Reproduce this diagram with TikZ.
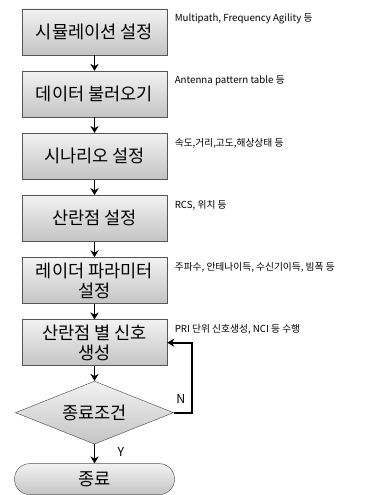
\documentclass[tikz,border=0pt]{standalone}
\usepackage{fontspec}
\setmainfont{Noto Sans CJK KR}
\usepackage{tikz}
\usetikzlibrary{arrows.meta,positioning,calc,shapes.geometric,shadows}
\definecolor{boxtop}{HTML}{F2F2F2}
\definecolor{boxbot}{HTML}{C4C4C4}
\definecolor{boxline}{HTML}{555555}

\begin{document}
\begin{tikzpicture}[
  step box/.style={draw=boxline, top color=boxtop, bottom color=boxbot, minimum width=4.35cm, minimum height=1.38cm, align=center, font=\fontsize{15}{17}\selectfont, inner sep=1pt, drop shadow={opacity=0.25, shadow xshift=0.6pt, shadow yshift=-0.6pt}},
  cond/.style={diamond, aspect=2.5, draw=boxline, top color=boxtop, bottom color=boxbot, minimum width=4.74cm, minimum height=1.89cm, inner sep=0pt, font=\fontsize{15}{17}\selectfont},
  term/.style={draw=boxline, rounded corners=0.46cm, top color=boxtop, bottom color=boxbot, minimum width=4.8cm, minimum height=0.93cm, font=\fontsize{15}{17}\selectfont},
  note/.style={font=\fontsize{8.3}{10}\selectfont, inner sep=0pt},
  arr/.style={-{Stealth[length=6pt,width=7pt]}, line width=1.5pt, black},
  node distance=0.47cm
]
  \useasboundingbox (0,0) rectangle (11.22,-14.85);

  \node[step box] (sim) at (2.835,-0.96) {시뮬레이션 설정};
  \node[step box, below=of sim] (load) {데이터 불러오기};
  \node[step box, below=of load] (scen) {시나리오 설정};
  \node[step box, below=of scen] (scat) {산란점 설정};
  \node[step box, below=of scat] (radar) {레이더 파라미터\\설정};
  \node[step box, below=of radar] (sig) {산란점 별 신호\\생성};
  \node[cond, below=0.45cm of sig] (stop) {종료조건};
  \node[term, below=0.57cm of stop] (done) {종료};

  % notes beside the steps
  \node[note, below right=0.15cm and 0.22cm of sim.north east] (simnote) {Multipath, Frequency Agility 등};
  \node[note, below right=0.15cm and 0.22cm of load.north east] (loadnote) {Antenna pattern table 등};
  \node[note, below right=0.15cm and 0.22cm of scen.north east] (scennote) {속도,거리,고도,해상상태 등};
  \node[note, below right=0.15cm and 0.22cm of scat.north east] (scatnote) {RCS, 위치 등};
  \node[note, below right=0.15cm and 0.22cm of radar.north east] (radarnote) {주파수, 안테나이득, 수신기이득, 빔폭 등};
  \node[note, below right=0.15cm and 0.22cm of sig.north east] (signote) {PRI 단위 신호생성, NCI 등 수행};

  \draw[arr] (sim) -- (load);
  \draw[arr] (load) -- (scen);
  \draw[arr] (scen) -- (scat);
  \draw[arr] (scat) -- (radar);
  \draw[arr] (radar) -- (sig);
  \draw[arr] (sig) -- (stop);
  \draw[arr] (stop) -- node[pos=0.4, right=0.55cm, font=\fontsize{10.5}{12}\selectfont] (yes) {Y} (done);
  \draw[arr] (stop.east) -- ++(0.54,0) node[pos=0.4, above=0.12cm, font=\fontsize{10.5}{12}\selectfont] (no) {N} |- (sig.east);
\end{tikzpicture}
\end{document}
